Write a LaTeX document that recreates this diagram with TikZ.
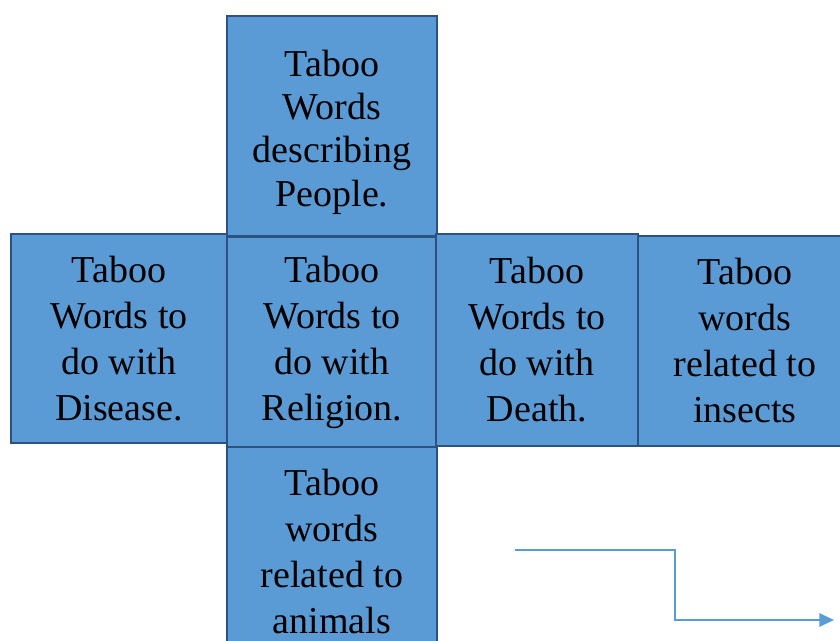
\documentclass[tikz,border=0pt]{standalone}
\usepackage{fontspec}
\setmainfont{Liberation Serif}
\usetikzlibrary{positioning, arrows.meta}
\definecolor{boxfill}{RGB}{91, 155, 213}
\definecolor{boxline}{RGB}{44, 82, 130}
\definecolor{arrowcolor}{RGB}{91, 155, 213}
\newcommand{\topgap}{\rule{0pt}{29pt}}

\begin{document}
\begin{tikzpicture}[
    x=0.75pt, y=-0.75pt,
    category/.style={rectangle, draw=boxline, line width=1.6pt, fill=boxfill,
        inner sep=0pt, outer sep=0pt, minimum width=157.5pt, minimum height=158pt,
        align=center, font=\fontsize{28.5}{34.5}\selectfont},
    arrow/.style={-{Triangle[length=11pt, width=10pt]}, draw=arrowcolor, line width=1.6pt},
]

% Canvas
\clip (0,0) rectangle (840,641);
\useasboundingbox (0,0) rectangle (840,641);

% Centre column
\node[category, minimum height=165pt, font=\fontsize{28.5}{32.5}\selectfont] (people) at (332,126) {\topgap Taboo\\Words\\describing\\People.};
\node[category] (religion) at (332,342) {Taboo\\Words to\\do with\\Religion.};
\node[category, minimum height=157.5pt] (animals) at (332,552) {Taboo\\words\\related to\\animals};

% Side boxes
\node[category, minimum width=162pt, minimum height=157pt] (disease) at (119,338.5) {Taboo\\Words to\\do with\\Disease.};
\node[category, minimum width=151.5pt, minimum height=159pt] (death) at (537,340) {Taboo\\Words to\\do with\\Death.};
\node[category, minimum width=160.5pt, minimum height=157.5pt] (insects) at (745,341) {Taboo\\words\\related to\\insects};

% Arrow
\coordinate (arrstart) at (515,550);
\coordinate (arrbend) at (675,550);
\coordinate (arrend) at (834,620);
\draw[arrow] (arrstart) -- (arrbend) |- (arrend);

\end{tikzpicture}
\end{document}
